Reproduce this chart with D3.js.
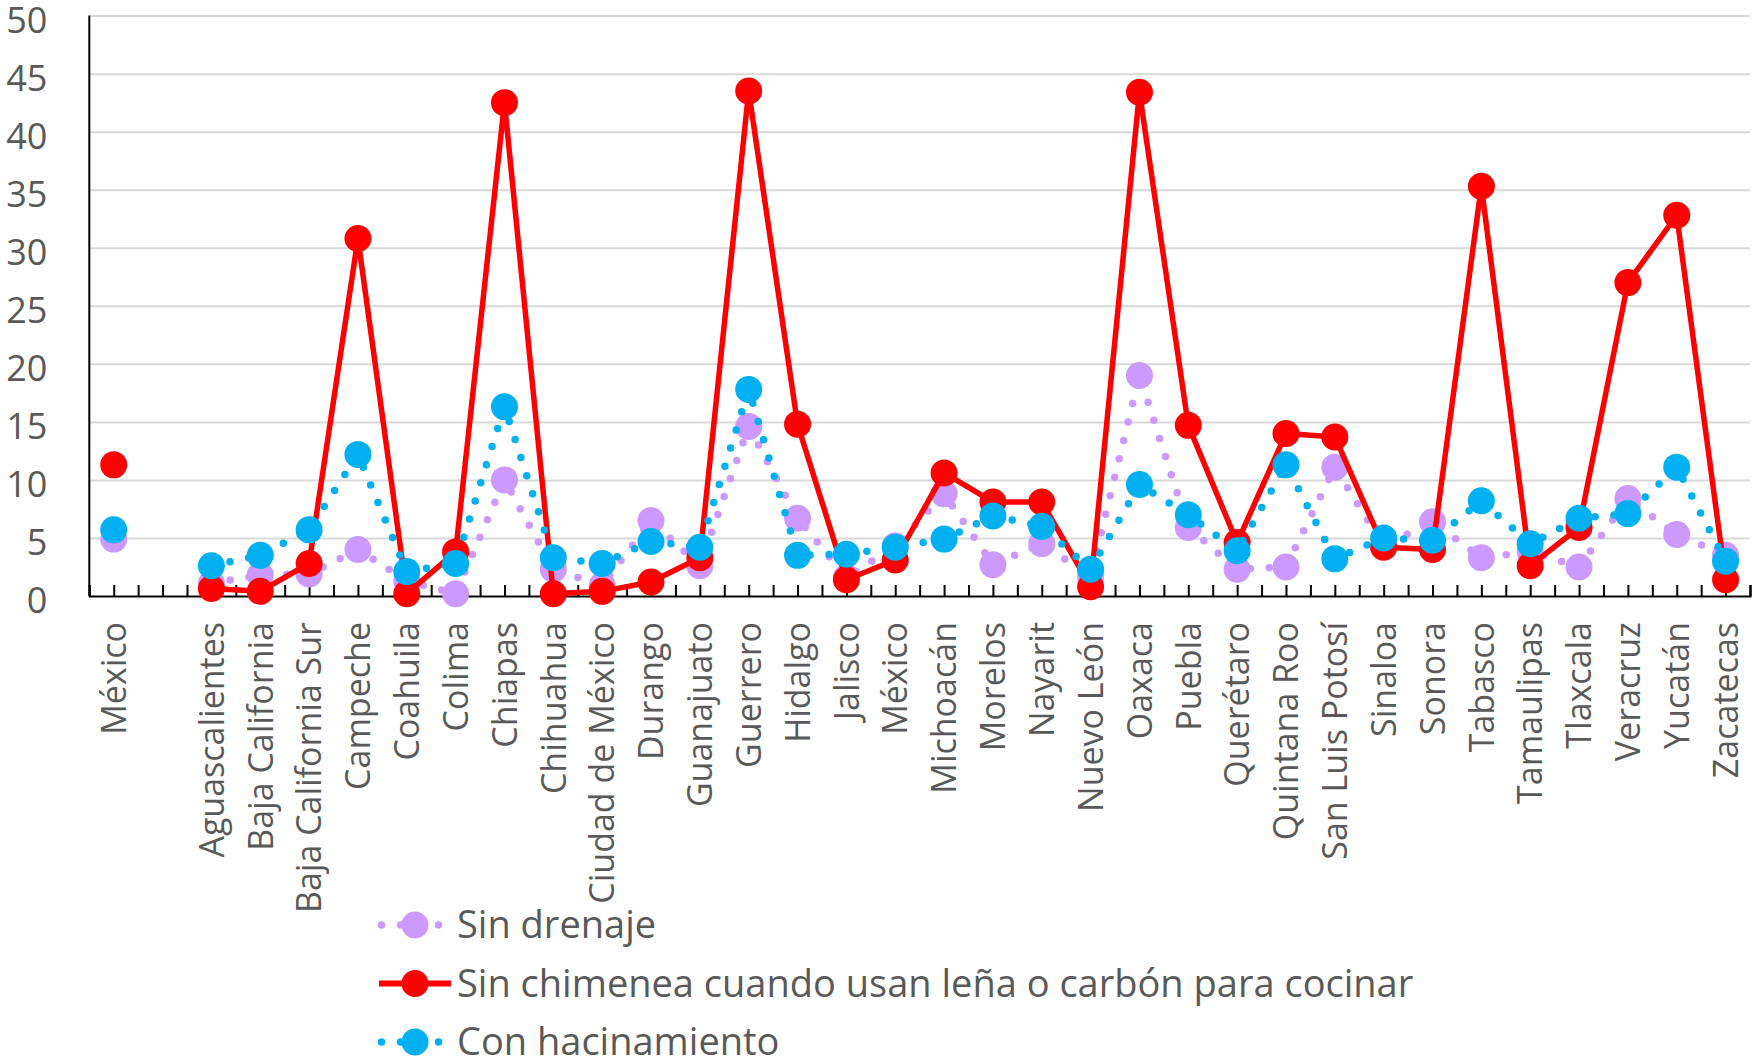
<!DOCTYPE html>
<html>
<head>
<meta charset="utf-8">
<script src="https://cdn.jsdelivr.net/npm/d3@7"></script>
<style>
  html, body { margin: 0; padding: 0; background: #fff; }
  svg { display: block; }
  text { font-family: "Open Sans", "Noto Sans", sans-serif; fill: #595959; }
</style>
</head>
<body>
<svg id="chart" width="1753" height="1062"></svg>
<script>
// ---- data ----
const categories = ["México","","Aguascalientes","Baja California","Baja California Sur","Campeche","Coahuila","Colima","Chiapas","Chihuahua","Ciudad de México","Durango","Guanajuato","Guerrero","Hidalgo","Jalisco","México","Michoacán","Morelos","Nayarit","Nuevo León","Oaxaca","Puebla","Querétaro","Quintana Roo","San Luis Potosí","Sinaloa","Sonora","Tabasco","Tamaulipas","Tlaxcala","Veracruz","Yucatán","Zacatecas"];

const sinDrenaje = [4.9, null, 1.1, 1.8, 1.9, 4.0, 1.3, 0.2, 10.0, 2.3, 0.9, 6.5, 2.6, 14.6, 6.7, 1.6, 4.3, 8.8, 2.7, 4.5, 1.7, 19.0, 5.9, 2.3, 2.5, 11.1, 4.3, 6.4, 3.3, 3.8, 2.5, 8.4, 5.3, 3.5];

const sinChimenea = [11.3, null, 0.65, 0.4, 2.8, 30.8, 0.2, 3.8, 42.5, 0.2, 0.4, 1.2, 3.3, 43.5, 14.8, 1.4, 3.1, 10.6, 8.1, 8.1, 0.8, 43.4, 14.7, 4.6, 14.0, 13.7, 4.2, 4.0, 35.3, 2.6, 5.9, 27.0, 32.8, 1.4];

const conHacinamiento = [5.7, null, 2.6, 3.5, 5.7, 12.2, 2.1, 2.8, 16.3, 3.3, 2.8, 4.7, 4.2, 17.8, 3.5, 3.6, 4.2, 4.9, 6.9, 6.0, 2.3, 9.6, 7.0, 3.9, 11.3, 3.2, 5.0, 4.8, 8.2, 4.5, 6.7, 7.1, 11.1, 3.0];

const yTicks = [0, 5, 10, 15, 20, 25, 30, 35, 40, 45, 50];

const seriesNames = ["Sin drenaje", "Sin chimenea cuando usan leña o carbón para cocinar", "Con hacinamiento"];

// ---- styling / layout ----
const series = [
  { name: seriesNames[0], values: sinDrenaje, color: "#CC99FF", dotted: true },
  { name: seriesNames[1], values: sinChimenea, color: "#FF0000", dotted: false },
  { name: seriesNames[2], values: conHacinamiento, color: "#00B0F0", dotted: true }
];

const pLeft = 89.3, pRight = 1750, pTop = 15.6, pBottom = 596;
const svg = d3.select("#chart");

const x = d3.scaleBand().domain(d3.range(categories.length)).range([pLeft, pRight]).paddingInner(0).paddingOuter(0);
const cx = i => x(i) + x.bandwidth() / 2;
const y = d3.scaleLinear().domain([0, 50]).range([pBottom, pTop]);

// gridlines
const grid = svg.append("g").attr("transform", `translate(${pLeft},0)`)
  .call(d3.axisLeft(y).tickValues(yTicks.filter(v => v > 0)).tickSize(-(pRight - pLeft)).tickFormat(""));
grid.select(".domain").remove();
grid.selectAll("line").attr("stroke", "#D9D9D9").attr("stroke-width", 2);

// y axis labels
const yAx = svg.append("g").attr("transform", `translate(${pLeft},0)`)
  .call(d3.axisLeft(y).tickValues(yTicks).tickSize(0).tickPadding(42));
yAx.select(".domain").remove();
yAx.selectAll("text").attr("font-size", 36).attr("fill", "#595959")
  .attr("dy", "0.47em")
  .style("font-family", '"Open Sans", sans-serif');

// y axis line
svg.append("line").attr("x1", pLeft).attr("x2", pLeft).attr("y1", pTop).attr("y2", pBottom)
  .attr("stroke", "#000").attr("stroke-width", 2);

// x axis ticks (every half category) and line
const tickScale = d3.scaleLinear().domain([0, categories.length]).range([pLeft, pRight]);
const xAx = svg.append("g").attr("transform", `translate(0,${pBottom})`)
  .call(d3.axisBottom(tickScale).tickValues(d3.range(0, categories.length + 0.01, 0.5)).tickSize(-11).tickFormat(""));
xAx.select(".domain").attr("stroke", "#000").attr("stroke-width", 2.2);
xAx.selectAll(".tick line").attr("stroke", "#000").attr("stroke-width", 2);

// category labels
svg.append("g").selectAll("text").data(categories).join("text")
  .attr("transform", (d, i) => `translate(${cx(i)},622) rotate(-90)`)
  .attr("text-anchor", "end")
  .attr("dy", "0.36em")
  .attr("font-size", 34)
  .text(d => d);

// series
const line = d3.line().defined(d => d.v != null).x(d => cx(d.i)).y(d => y(d.v));
series.forEach(s => {
  const pts = s.values.map((v, i) => ({ v, i }));
  const g = svg.append("g");
  const p = g.append("path").attr("d", line(pts)).attr("fill", "none").attr("stroke", s.color);
  if (s.dotted) {
    p.attr("stroke-width", 7.5).attr("stroke-dasharray", "0 19").attr("stroke-linecap", "round");
  } else {
    p.attr("stroke-width", 5.5).attr("stroke-linejoin", "round");
  }
  g.selectAll("circle").data(pts.filter(d => d.v != null)).join("circle")
    .attr("cx", d => cx(d.i)).attr("cy", d => y(d.v)).attr("r", 13.5).attr("fill", s.color);
});

// legend
const legend = svg.append("g");
series.forEach((s, k) => {
  const cy = 925 + k * 58.5;
  const g = legend.append("g");
  if (s.dotted) {
    g.append("line").attr("x1", 381.5).attr("x2", 448.5).attr("y1", cy).attr("y2", cy)
      .attr("stroke", s.color).attr("stroke-width", 7.5).attr("stroke-dasharray", "0 19").attr("stroke-linecap", "round");
  } else {
    g.append("line").attr("x1", 379).attr("x2", 451).attr("y1", cy).attr("y2", cy)
      .attr("stroke", s.color).attr("stroke-width", 6);
  }
  g.append("circle").attr("cx", 415).attr("cy", cy).attr("r", 13.5).attr("fill", s.color);
  g.append("text").attr("x", 457).attr("y", cy + 13).attr("font-size", 38).text(s.name);
});
</script>
</body>
</html>
